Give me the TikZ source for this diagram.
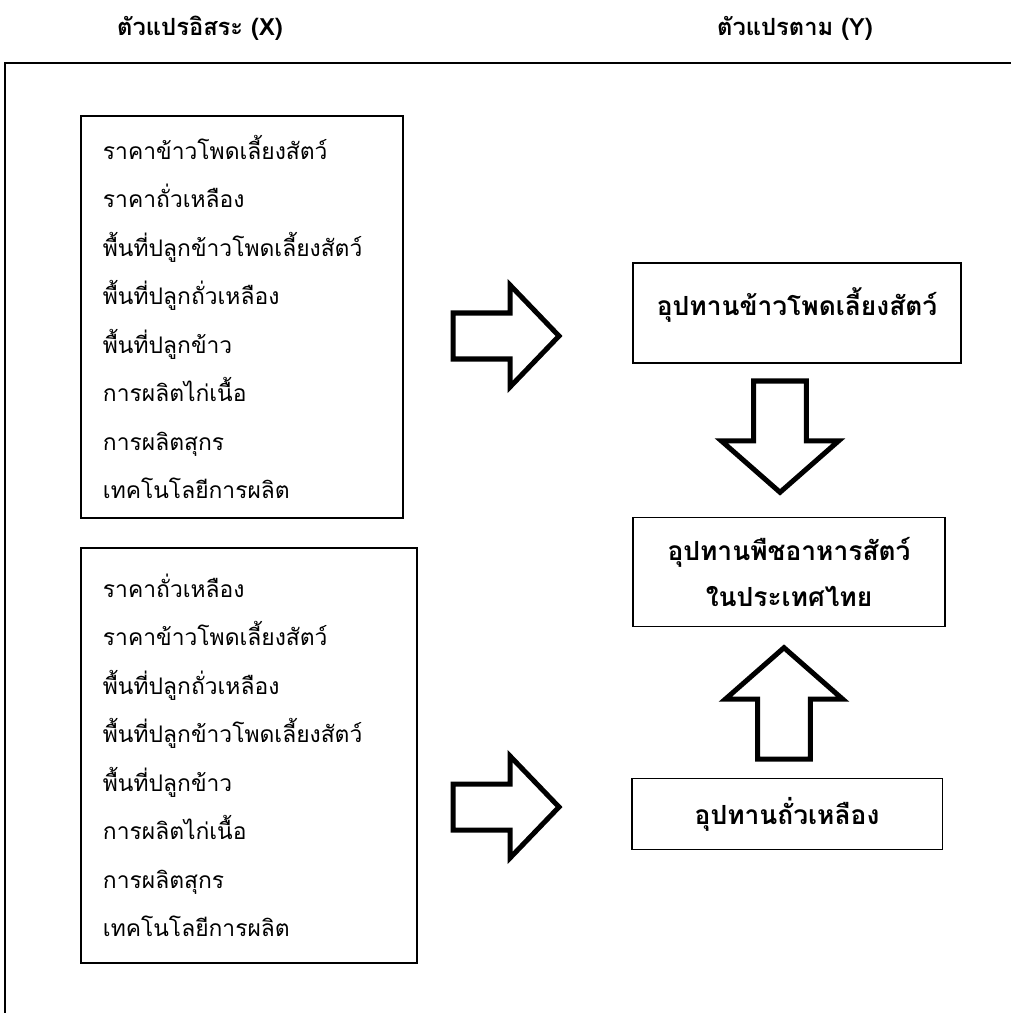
\documentclass[tikz,border=0pt]{standalone}
\usepackage{fontspec}
\setmainfont{Liberation Sans}
\newfontfamily\thaifont[Script=Thai]{Loma}

\begin{document}
\begin{tikzpicture}[x=0.02cm, y=-0.02cm,
  frame/.style = {draw, line width=1.1pt},
  heading/.style = {font=\thaifont\bfseries\fontsize{13.5}{15}\selectfont},
  listbox/.style = {draw, line width=1.1pt, anchor=north west, align=left, inner xsep=0.44cm,
    font=\thaifont\fontsize{13}{27.6}\selectfont},
  resbox/.style = {draw, line width=1.1pt, align=center,
    font=\thaifont\bfseries\fontsize{15}{26.7}\selectfont},
  bigarrow/.pic = {\draw[line width=2.85pt, line join=miter]
    (0,-23) -- (57,-23) -- (57,-51) -- (106,0) -- (57,51) -- (57,23) -- (0,23) -- cycle;}]
\useasboundingbox (0,0) rectangle (1010,1013);

% headings
\node[heading] (hx) at (200,28) {ตัวแปรอิสระ (X)};
\node[heading] (hy) at (795,28) {ตัวแปรตาม (Y)};

% frame, open to the right and below
\draw[frame] (5,1030) |- (1030,63);

% independent variables
\node[listbox, minimum width=6.44cm, minimum height=8.04cm, text width=5.56cm] (xa) at (80,115)
  {ราคาข้าวโพดเลี้ยงสัตว์\\ ราคาถั่วเหลือง\\ พื้นที่ปลูกข้าวโพดเลี้ยงสัตว์\\ พื้นที่ปลูกถั่วเหลือง\\
   พื้นที่ปลูกข้าว\\ การผลิตไก่เนื้อ\\ การผลิตสุกร\\ เทคโนโลยีการผลิต};
\node[listbox, minimum width=6.72cm, minimum height=8.3cm, text width=5.84cm] (xb) at (80,547)
  {ราคาถั่วเหลือง\\ ราคาข้าวโพดเลี้ยงสัตว์\\ พื้นที่ปลูกถั่วเหลือง\\ พื้นที่ปลูกข้าวโพดเลี้ยงสัตว์\\
   พื้นที่ปลูกข้าว\\ การผลิตไก่เนื้อ\\ การผลิตสุกร\\ เทคโนโลยีการผลิต};

% dependent variables
\node[resbox, minimum width=6.56cm, minimum height=2cm, text depth=0.45cm] (corn) at (797,313) {อุปทานข้าวโพดเลี้ยงสัตว์};
\node[resbox, minimum width=6.24cm, minimum height=2.18cm] (feed) at (789,572) {อุปทานพืชอาหารสัตว์\\ ในประเทศไทย};
\node[resbox, minimum width=6.22cm, minimum height=1.42cm] (soy) at (787,814) {อุปทานถั่วเหลือง};

% block arrows
\pic at (453,336) {bigarrow};
\pic at (453,807) {bigarrow};
\pic[rotate=-90, xscale=1.05, yscale=1.15] at (780,381) {bigarrow};
\pic[rotate=90, xscale=1.05, yscale=1.15] at (784,759) {bigarrow};
\end{tikzpicture}
\end{document}
